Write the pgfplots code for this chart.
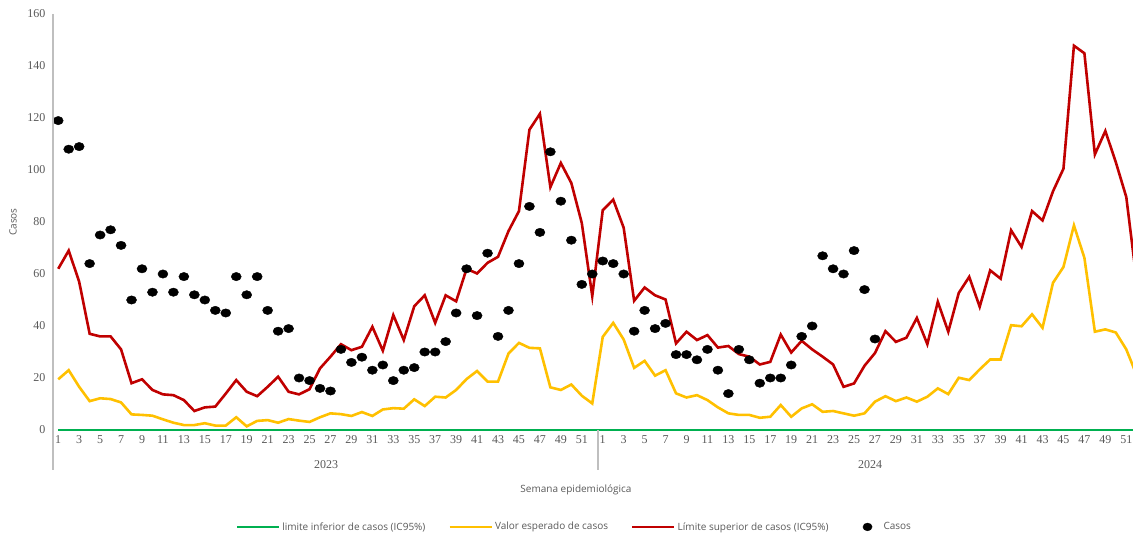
\documentclass[border=0pt]{standalone}
\usepackage{fontspec}
\setmainfont{Open Sans}
\newfontfamily\tickfont{Liberation Serif}
\usepackage{pgfplots}
\usepackage{pgfplotstable}
\pgfplotsset{compat=1.18}
\definecolor{lgreen}{HTML}{00B050}
\definecolor{lyellow}{HTML}{FFC000}
\definecolor{lred}{HTML}{C00000}
\definecolor{labgray}{HTML}{595959}
\definecolor{axgray}{HTML}{BFBFBF}
\pgfplotsset{lineleg/.style={legend image code/.code={\draw[##1] (0pt,0pt) -- (42pt,0pt);}},
  dotleg/.style={legend image code/.code={\fill[black] (16pt,0pt) ellipse (4.6pt and 3.9pt); \path[draw=none] (0pt,0pt) -- (30pt,0pt);}}}

\pgfplotstableread{
idx low exp up
0 0 19.5 62
1 0 23 69
2 0 16.6 57
3 0 11.1 37
4 0 12.2 36
5 0 11.9 36
6 0 10.6 31
7 0 6 18
8 0 5.8 19.5
9 0 5.5 15.4
10 0 4.1 13.7
11 0 2.8 13.4
12 0 1.9 11.5
13 0 1.9 7.3
14 0 2.6 8.7
15 0 1.7 9
16 0 1.7 14
17 0 4.9 19.2
18 0 1.4 14.7
19 0 3.5 13
20 0 3.8 16.6
21 0 2.8 20.5
22 0 4.2 14.7
23 0 3.6 13.7
24 0 3.1 15.7
25 0 4.9 23.7
26 0 6.4 28.2
27 0 6.1 33
28 0 5.4 30.7
29 0 6.9 32
30 0 5.4 39.7
31 0 7.9 30.5
32 0 8.4 44.2
33 0 8.2 34.6
34 0 11.8 47.6
35 0 9.2 51.8
36 0 12.8 41.2
37 0 12.5 51.8
38 0 15.4 49.5
39 0 19.6 62
40 0 22.7 60.2
41 0 18.6 64.3
42 0 18.6 66.6
43 0 29.4 76.5
44 0 33.5 84.2
45 0 31.6 115.5
46 0 31.4 121.6
47 0 16.4 93.4
48 0 15.4 102.7
49 0 17.5 95
50 0 13.2 79.6
51 0 10.2 51.5
52 0 35.8 84.5
53 0 41.2 88.6
54 0 34.8 77.8
55 0 23.9 49.7
56 0 26.6 54.8
57 0 20.9 51.8
58 0 23 50.2
59 0 14.1 33.3
60 0 12.5 37.8
61 0 13.4 34.6
62 0 11.5 36.5
63 0 8.7 31.7
64 0 6.4 32.3
65 0 5.8 29.2
66 0 5.8 28.2
67 0 4.7 25.2
68 0 5.1 26.2
69 0 9.6 36.7
70 0 5.1 29.8
71 0 8.3 34.3
72 0 9.9 31
73 0 7 28.2
74 0 7.3 25.2
75 0 6.4 16.6
76 0 5.5 17.9
77 0 6.4 24.7
78 0 10.9 29.6
79 0 13 38
80 0 11.1 33.9
81 0 12.5 35.5
82 0 10.9 43.1
83 0 12.8 33
84 0 16 49.3
85 0 13.8 37.8
86 0 20.1 52.7
87 0 19.2 58.9
88 0 23.3 47.4
89 0 27.1 61.4
90 0 27.1 58.2
91 0 40.3 76.8
92 0 39.9 70.4
93 0 44.5 84.2
94 0 39.3 80.6
95 0 56.6 91.8
96 0 62.7 100.5
97 0 78.7 147.8
98 0 66.2 144.9
99 0 37.8 106
100 0 38.7 115
101 0 37.5 103
102 0 31 89.6
103 0 21 57
}\lines

\pgfplotstableread{
idx casos
0 119
1 108
2 109
3 64
4 75
5 77
6 71
7 50
8 62
9 53
10 60
11 53
12 59
13 52
14 50
15 46
16 45
17 59
18 52
19 59
20 46
21 38
22 39
23 20
24 19
25 16
26 15
27 31
28 26
29 28
30 23
31 25
32 19
33 23
34 24
35 30
36 30
37 34
38 45
39 62
40 44
41 68
42 36
43 46
44 64
45 86
46 76
47 107
48 88
49 73
50 56
51 60
52 65
53 64
54 60
55 38
56 46
57 39
58 41
59 29
60 29
61 27
62 31
63 23
64 14
65 31
66 27
67 18
68 20
69 20
70 25
71 36
72 40
73 67
74 62
75 60
76 69
77 54
78 35
}\cases

\begin{document}
\begin{tikzpicture}
\useasboundingbox (0,0) rectangle (1133pt,535pt);
\begin{axis}[
  at={(53pt,105pt)}, anchor=south west,
  width=1089pt, height=416pt, scale only axis,
  xmin=-0.5, xmax=103.5, ymin=0, ymax=160,
  ytick={0,20,...,160},
  xtick={0,2,...,102},
  xticklabels={1,3,5,7,9,11,13,15,17,19,21,23,25,27,29,31,33,35,37,39,41,43,45,47,49,51,1,3,5,7,9,11,13,15,17,19,21,23,25,27,29,31,33,35,37,39,41,43,45,47,49,51},
  axis line style={draw=none},
  major tick length=0pt,
  /pgf/number format/assume math mode=true,
  tick label style={font=\tickfont\fontsize{12}{14}\selectfont, text=labgray},
  yticklabel style={xshift=-4pt},
  xticklabel style={anchor=north, yshift=-2pt},
  clip=false,
  legend columns=4,
  legend style={draw=none, fill=none, at={(0.479,-0.233)}, anchor=center,
    font=\fontsize{10}{12}\selectfont, text=labgray,
    /tikz/every even column/.append style={column sep=21pt}},
  legend cell align=left,
]
\addplot[lgreen, line width=2pt, lineleg] table[x=idx, y=low] {\lines};
\addlegendentry{limite inferior de casos (IC95\%)}
\addplot[lyellow, line width=2.6pt, lineleg] table[x=idx, y=exp] {\lines};
\addlegendentry{Valor esperado de casos}
\addplot[lred, line width=2.6pt, lineleg] table[x=idx, y=up] {\lines};
\addlegendentry{Límite superior de casos (IC95\%)}
\addplot[only marks, mark=*, mark size=4.2pt, mark options={xscale=1.2, fill=black, draw=black}, dotleg] table[x=idx, y=casos] {\cases};
\addlegendentry{Casos}
\end{axis}
\draw[axgray, line width=1.5pt] (53pt,521pt) -- (53pt,65pt);
\draw[axgray, line width=1.2pt] (598pt,105pt) -- (598pt,65pt);
\draw[axgray, line width=1.2pt] (1142pt,105pt) -- (1142pt,65pt);
\node[font=\tickfont\fontsize{12}{14}\selectfont, text=labgray] at (326pt,70pt) {2023};
\node[font=\tickfont\fontsize{12}{14}\selectfont, text=labgray] at (870pt,70pt) {2024};
\node[font=\fontsize{10}{12}\selectfont, text=labgray] at (576pt,45pt) {Semana epidemiológica};
\node[font=\fontsize{10}{12}\selectfont, text=labgray, rotate=90] at (13pt,313pt) {Casos};
\end{tikzpicture}
\end{document}
